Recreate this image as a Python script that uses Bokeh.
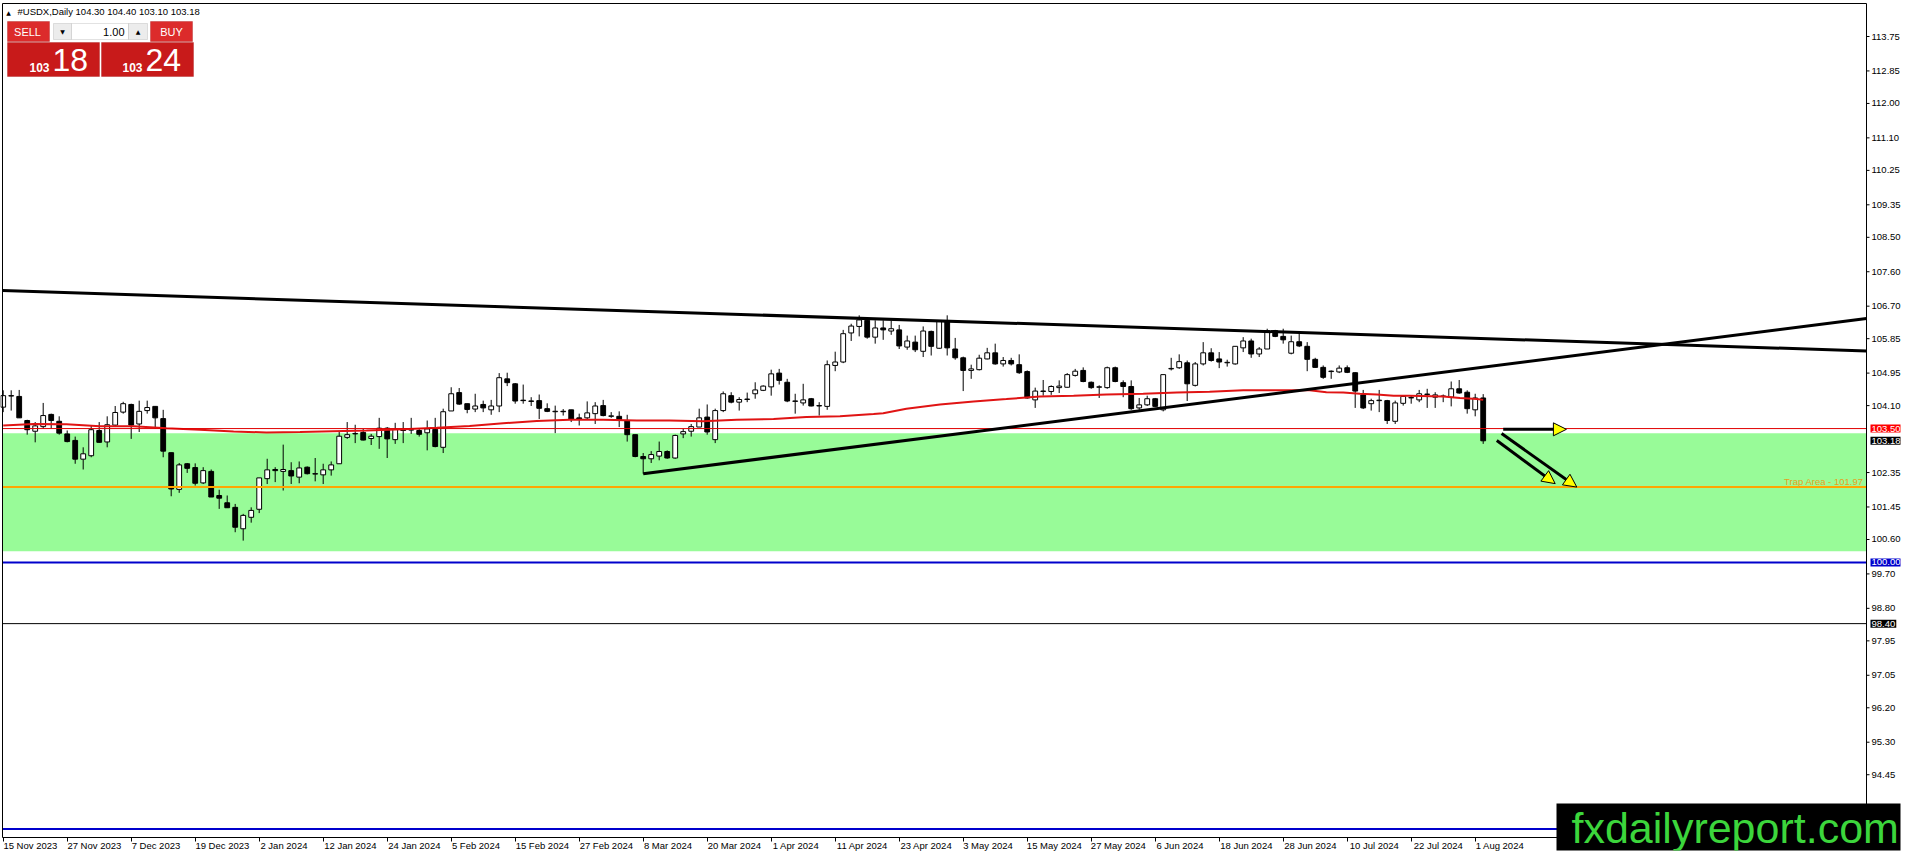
from bokeh.plotting import figure
from bokeh.models import (ColumnDataSource, FixedTicker, LinearAxis, Range1d, BoxAnnotation,
                          Label, Arrow, NormalHead, PrintfTickFormatter)
from bokeh.embed import file_html
from bokeh.resources import INLINE

# ---------------- data ----------------
opens = [104.06,104.35,104.34,103.71,103.43,103.55,103.87,103.69,103.36,103.19,
         102.70,102.79,103.45,103.15,103.59,103.93,104.13,103.62,103.97,104.08,
         103.76,102.87,101.91,102.58,102.48,102.08,102.38,101.75,101.56,101.44,
         100.88,101.18,101.39,102.19,102.43,102.38,102.40,102.23,102.49,102.31,
         102.29,102.42,102.58,103.27,103.36,103.40,103.24,103.29,103.51,103.21,
         103.46,103.46,103.45,103.39,103.48,103.01,103.96,104.44,104.15,104.01,
         104.13,103.99,104.09,104.80,104.67,104.24,104.22,104.23,104.02,103.94,
         103.95,103.99,103.78,103.78,103.89,104.10,103.82,103.82,103.71,103.34,
         102.77,102.71,102.78,102.90,102.73,103.36,103.43,103.54,103.80,103.21,
         103.97,104.36,104.19,104.26,104.41,104.50,104.59,104.95,104.71,104.21,
         104.17,104.28,104.09,104.08,105.15,105.24,106.00,106.17,106.33,105.89,
         106.13,106.05,106.08,105.63,105.76,105.52,106.04,105.60,106.31,105.58,
         105.35,105.02,105.04,105.32,105.48,105.19,105.28,105.17,104.99,104.25,
         104.47,104.47,104.57,104.58,104.89,105.02,104.71,104.58,104.57,105.09,
         104.70,104.60,104.04,104.12,104.28,103.99,105.06,105.09,105.22,104.63,
         105.19,105.48,105.32,105.22,105.19,105.61,105.79,105.45,105.58,106.06,
         105.91,105.47,105.77,105.65,105.31,105.10,104.99,104.98,105.09,104.96,
         104.38,104.15,104.23,104.23,103.69,104.16,104.30,104.25,104.39,104.32,
         104.34,104.32,104.54,104.45,103.99,104.30]
highs = [104.50,104.50,104.51,103.73,103.67,104.17,103.89,103.82,103.45,103.29,
         103.01,103.57,103.67,103.82,104.09,104.20,104.15,104.23,104.23,104.08,
         103.99,102.87,102.60,102.60,102.59,102.49,102.43,101.90,101.75,101.53,
         101.27,101.44,102.21,102.71,102.49,103.08,102.62,102.64,102.51,102.73,
         102.58,102.64,103.41,103.67,103.60,103.49,103.36,103.78,103.54,103.65,
         103.67,103.78,103.50,103.71,103.78,104.02,104.58,104.56,104.15,104.41,
         104.23,104.25,104.95,104.96,104.69,104.65,104.32,104.39,104.16,104.10,
         104.01,103.99,103.89,104.21,104.19,104.25,103.93,103.95,103.86,103.34,
         102.86,102.91,103.16,102.93,103.34,103.49,103.62,104.02,104.13,104.02,
         104.47,104.45,104.32,104.44,104.71,104.63,105.04,105.06,104.80,104.41,
         104.67,104.30,104.19,105.28,105.51,106.08,106.24,106.46,106.41,106.33,
         106.33,106.33,106.21,105.93,105.93,106.17,106.06,106.33,106.46,105.87,
         105.38,105.17,105.43,105.61,105.72,105.37,105.35,105.44,105.02,104.57,
         104.77,104.63,104.76,104.95,105.06,105.10,104.73,104.63,105.12,105.12,
         104.76,104.76,104.30,104.36,104.30,104.91,105.35,105.44,105.28,105.24,
         105.76,105.60,105.50,105.30,105.65,105.89,105.85,105.63,106.11,106.08,
         106.11,105.93,106.02,105.76,105.35,105.15,105.02,105.15,105.15,104.97,
         104.51,104.28,104.51,104.25,104.23,104.36,104.36,104.51,104.54,104.45,
         104.39,104.73,104.77,104.50,104.41,104.40]
lows = [103.93,103.97,103.78,103.34,103.14,103.49,103.51,103.34,103.14,102.58,
        102.43,102.75,103.13,103.01,103.54,103.89,103.23,103.41,103.89,103.49,
        102.75,101.73,101.82,102.34,102.01,102.05,101.71,101.40,101.43,100.79,
        100.57,101.04,101.29,102.05,102.10,101.88,102.05,102.07,102.30,102.12,
        102.05,102.27,102.58,103.23,103.12,103.19,103.07,102.97,102.73,103.10,
        103.12,103.36,103.29,102.93,103.01,102.86,103.96,104.12,103.90,103.93,
        103.93,103.86,103.93,104.61,104.15,104.15,104.09,103.75,103.93,103.38,
        103.84,103.67,103.58,103.75,103.62,103.82,103.78,103.54,103.16,102.75,
        102.32,102.60,102.67,102.71,102.71,103.25,103.29,103.54,103.34,103.12,
        103.93,104.16,103.97,104.19,104.28,104.48,104.36,104.65,104.19,103.89,
        104.10,104.08,103.84,103.99,105.00,105.21,105.79,105.91,105.85,105.72,
        105.82,105.95,105.58,105.56,105.50,105.37,105.41,105.58,105.41,105.30,
        104.48,104.80,105.02,105.31,105.17,105.12,105.15,104.93,104.28,104.04,
        104.36,104.38,104.43,104.57,104.86,104.71,104.54,104.30,104.54,104.71,
        104.32,103.99,103.99,104.09,104.06,103.95,105.02,105.06,104.22,104.60,
        105.15,105.25,105.08,105.12,105.17,105.50,105.35,105.37,105.58,105.89,
        105.72,105.44,105.63,105.00,105.09,104.80,104.80,104.95,104.95,104.04,
        104.01,103.97,103.93,103.62,103.62,104.10,104.15,104.19,104.04,104.04,
        104.19,104.08,104.41,103.89,103.82,103.10]
closes = [104.36,104.36,103.78,103.47,103.57,103.84,103.71,103.38,103.16,102.70,
          102.84,103.47,103.14,103.60,103.92,104.15,103.59,103.95,104.05,103.78,
          102.91,101.92,102.55,102.46,102.07,102.40,101.71,101.68,101.43,100.92,
          101.23,101.36,102.21,102.42,102.40,102.43,102.26,102.47,102.32,102.31,
          102.42,102.55,103.30,103.34,103.36,103.20,103.30,103.51,103.23,103.48,
          103.45,103.47,103.35,103.49,103.03,103.94,104.41,104.14,104.00,104.09,
          104.04,104.09,104.83,104.70,104.22,104.23,104.21,104.03,103.95,103.94,
          103.94,103.75,103.74,103.91,104.09,103.84,103.82,103.73,103.34,102.77,
          102.71,102.82,102.90,102.73,103.32,103.42,103.55,103.78,103.41,103.97,
          104.41,104.19,104.26,104.26,104.51,104.61,104.93,104.76,104.22,104.21,
          104.25,104.09,104.09,105.17,105.24,105.98,106.18,106.34,105.89,106.13,
          106.08,106.11,105.66,105.79,105.56,106.05,105.65,106.30,105.61,105.35,
          105.02,105.06,105.34,105.48,105.19,105.28,105.19,104.96,104.30,104.48,
          104.47,104.60,104.61,104.91,105.00,104.73,104.57,104.58,105.09,104.73,
          104.60,104.02,104.12,104.28,104.08,104.91,105.06,105.25,104.67,105.19,
          105.48,105.28,105.24,105.22,105.65,105.79,105.45,105.58,106.06,105.91,
          105.82,105.77,105.66,105.31,105.10,104.84,104.99,105.08,104.97,104.48,
          104.04,104.23,104.23,103.71,104.17,104.34,104.30,104.41,104.39,104.38,
          104.34,104.54,104.43,104.02,104.30,103.18]

# moving average (red), read at these bar positions
ma_bars = [0, 3.8, 7.9, 12.1, 16.3, 20.4, 24.6, 28.8, 32.9, 37.1,
           41.2, 45.4, 50.0, 54.2, 58.3, 62.5, 66.7, 70.8, 75.0, 79.2,
           83.3, 87.5, 91.7, 96.3, 100.4, 104.6, 108.8, 110.0, 112.9, 117.1,
           121.3, 125.4, 129.6, 133.8, 137.9, 142.5, 146.7, 150.8, 155.0, 159.2,
           163.3, 165.4, 167.5, 169.6, 171.7, 173.8, 175.8, 180.0, 182.1, 184.2, 185.0]
ma_vals = [103.58, 103.62, 103.61, 103.56, 103.56, 103.51, 103.47, 103.42, 103.40, 103.41,
           103.43, 103.45, 103.48, 103.52, 103.57, 103.64, 103.70, 103.73, 103.73, 103.71,
           103.71, 103.69, 103.73, 103.75, 103.80, 103.82, 103.88, 103.90, 104.02, 104.13,
           104.21, 104.27, 104.34, 104.36, 104.39, 104.41, 104.44, 104.46, 104.50, 104.50,
           104.50, 104.45, 104.44, 104.41, 104.39, 104.36, 104.36, 104.34, 104.30, 104.27, 104.25]

date_labels = ["15 Nov 2023", "27 Nov 2023", "7 Dec 2023", "19 Dec 2023", "2 Jan 2024",
               "12 Jan 2024", "24 Jan 2024", "5 Feb 2024", "15 Feb 2024", "27 Feb 2024",
               "8 Mar 2024", "20 Mar 2024", "1 Apr 2024", "11 Apr 2024", "23 Apr 2024",
               "3 May 2024", "15 May 2024", "27 May 2024", "6 Jun 2024", "18 Jun 2024",
               "28 Jun 2024", "10 Jul 2024", "22 Jul 2024", "1 Aug 2024"]
date_bars = [8 * i for i in range(len(date_labels))]

price_ticks = [113.75, 112.85, 112.00, 111.10, 110.25, 109.35, 108.50, 107.60, 106.70,
               105.85, 104.95, 104.10, 102.35, 101.45, 100.60, 99.70, 98.80, 97.95,
               97.05, 96.20, 95.30, 94.45]

# drawn objects (bar index, price)
down_trend_x = [-0.09, 234.2]
down_trend_y = [107.11, 105.52]
up_trend_x = [80.0, 234.2]
up_trend_y = [102.32, 106.41]
zone_low, zone_high = 100.29, 103.38
trap_level = 101.97
level_red = 103.50
bid_level = 103.18
level_blue = 100.00
level_black = 98.40
level_blue_low = 93.03
arrow_x0 = [187.5, 186.7, 187.3]
arrow_y0 = [103.48, 103.19, 103.37]
arrow_x1 = [195.4, 194.0, 196.7]
arrow_y1 = [103.48, 102.06, 101.97]
tag_values = [103.50, 103.18, 100.00, 98.40]
tag_colors = ["#ff0000", "#000000", "#0000cc", "#000000"]

symbol = "#USDX,Daily"
bid_price, ask_price = "103.18", "103.24"

# ---------------- geometry (pixels) ----------------
FW, FH = 1900, 850          # frame covers the whole canvas
BAR_PX = 8.0                 # pixels per bar
PX_PER_UNIT = 38.25          # pixels per price unit
X0 = -2.7 / BAR_PX           # bar coordinate at left edge
Y1 = 113.75 + 36 / PX_PER_UNIT
AXIS_X_PX, AXIS_Y_PX = 1866, 837   # MT4-style scale lines
LEFT_PX, TOP_PX = 2, 3
FONT = "Liberation Sans"

def px2x(px):
    return X0 + px / BAR_PX

def py2y(py):
    return Y1 - py / PX_PER_UNIT

XA = px2x(AXIS_X_PX)
XL = px2x(LEFT_PX)

p = figure(frame_width=FW, frame_height=FH, output_backend="svg", toolbar_location=None,
           x_range=Range1d(X0, X0 + FW / BAR_PX), y_range=Range1d(py2y(FH), Y1),
           x_axis_location=None, y_axis_location=None,
           min_border=0, min_border_left=0, min_border_top=0, min_border_right=0,
           min_border_bottom=0)
p.xgrid.visible = False
p.ygrid.visible = False
p.background_fill_color = "white"
p.border_fill_color = "white"
p.outline_line_color = None

# axes (labels drawn just inside the canvas edge, MT4 style)
offs = [round(b + (1 + 0.5 * 4.75 * len(s)) / BAR_PX, 3) for b, s in zip(date_bars, date_labels)]
xaxis = LinearAxis(ticker=FixedTicker(ticks=offs, minor_ticks=date_bars),
                   major_label_overrides={o: s for o, s in zip(offs, date_labels)},
                   major_tick_out=0, major_tick_in=0,
                   minor_tick_in=FH - AXIS_Y_PX, minor_tick_out=-(FH - AXIS_Y_PX - 4),
                   major_label_standoff=-11, major_label_text_font=FONT,
                   major_label_text_font_size="9.5px", major_label_text_color="black",
                   axis_line_color=None, minor_tick_line_color="black")
p.add_layout(xaxis, "below")
yaxis = LinearAxis(ticker=FixedTicker(ticks=price_ticks, minor_ticks=[]),
                   formatter=PrintfTickFormatter(format="%.2f"),
                   major_tick_out=0, major_tick_in=0, minor_tick_out=0, minor_tick_in=0,
                   major_label_standoff=-(FW - AXIS_X_PX - 5), major_label_text_font=FONT,
                   major_label_text_font_size="9.5px", major_label_text_color="black",
                   axis_line_color=None)
p.add_layout(yaxis, "right")

# background zone and bid line
p.add_layout(BoxAnnotation(left=XL, right=XA, bottom=zone_low, top=zone_high,
                           fill_color="#98fb98", fill_alpha=1, line_color=None, level="underlay"))
p.segment(x0=[XL], y0=[bid_level], x1=[XA], y1=[bid_level], line_color="#c0c0c0", line_width=1,
          level="underlay")

# candles
idx = list(range(len(opens)))
tops = [max(o, c) for o, c in zip(opens, closes)]
bots = [min(o, c) for o, c in zip(opens, closes)]
tops = [t if t - b >= 0.012 else b + 0.012 for t, b in zip(tops, bots)]
fills = ["white" if c >= o else "black" for o, c in zip(opens, closes)]
src = ColumnDataSource(dict(x=idx, h=highs, l=lows, top=tops, bottom=bots, fill=fills))
p.segment(x0="x", y0="h", x1="x", y1="l", source=src, line_color="black", line_width=1)
p.vbar(x="x", width=0.6, top="top", bottom="bottom", fill_color="fill", line_color="black",
       line_width=1, source=src)

# moving average
p.line(ma_bars, ma_vals, line_color="#e01414", line_width=2)

# horizontal levels (drawn from the left border to the price scale)
for lv, col, lw in [(level_red, "#e00000", 1), (trap_level, "#ffa500", 2),
                    (level_blue, "#0000cc", 2), (level_black, "black", 1),
                    (level_blue_low, "#0000cc", 2)]:
    p.line([XL, XA], [lv, lv], line_color=col, line_width=lw)

# trendlines, extended to the price scale
def extend(xs, ys, x):
    return ys[0] + (ys[1] - ys[0]) * (x - xs[0]) / (xs[1] - xs[0])

p.line([XL, XA], [extend(down_trend_x, down_trend_y, XL), extend(down_trend_x, down_trend_y, XA)],
       line_color="black", line_width=3)
p.line([up_trend_x[0], XA], [up_trend_y[0], extend(up_trend_x, up_trend_y, XA)],
       line_color="black", line_width=3)

# arrows
asrc = ColumnDataSource(dict(x0=arrow_x0, y0=arrow_y0, x1=arrow_x1, y1=arrow_y1))
p.add_layout(Arrow(end=NormalHead(size=13, fill_color="#ffff00", line_color="black", line_width=1),
                   x_start="x0", y_start="y0", x_end="x1", y_end="y1", source=asrc,
                   line_color="black", line_width=3))

# chart border and scale lines
p.line([XL, XA], [py2y(TOP_PX), py2y(TOP_PX)], line_color="black", line_width=1)
p.line([XL, XL], [py2y(TOP_PX), py2y(AXIS_Y_PX)], line_color="black", line_width=1)
p.line([XA, XA], [py2y(TOP_PX), py2y(AXIS_Y_PX)], line_color="black", line_width=1)
p.line([XL, XA], [py2y(AXIS_Y_PX), py2y(AXIS_Y_PX)], line_color="black", line_width=1)
p.segment(x0=[XA] * len(price_ticks), x1=[XA + 3 / BAR_PX] * len(price_ticks),
          y0=price_ticks, y1=price_ticks, line_color="black", line_width=1)

# trap label
p.add_layout(Label(x=AXIS_X_PX - 3, y=trap_level, x_units="screen", y_units="data",
                   text="Trap Area - %.2f" % trap_level, text_align="right", text_baseline="bottom",
                   text_font=FONT, text_font_size="9.5px", text_color="#e8a020"))

# price tags on the right scale
for v, col in zip(tag_values, tag_colors):
    p.add_layout(Label(x=AXIS_X_PX + 4, y=v, x_units="screen", y_units="data", text="%.2f" % v,
                       text_align="left", text_baseline="middle", text_font=FONT,
                       text_font_size="9.5px", text_color="white",
                       background_fill_color=col, background_fill_alpha=1, padding=1))

# ---------------- one-click trading panel (screen px from top-left) ----------------
def sbox(x0, y0, x1, y1, fill, line=None):
    p.add_layout(BoxAnnotation(left=x0, right=x1, top=FH - y0, bottom=FH - y1,
                               left_units="screen", right_units="screen",
                               top_units="screen", bottom_units="screen",
                               fill_color=fill, fill_alpha=1, line_color=line,
                               line_width=1, level="overlay"))

def slabel(x, y, text, size, color, align="left", font=FONT, style="normal"):
    p.add_layout(Label(x=x, y=FH - y, x_units="screen", y_units="screen", text=text,
                       text_font_size=size, text_color=color, text_align=align,
                       text_baseline="middle", text_font=font, text_font_style=style,
                       level="overlay"))

ohlc_txt = "%s  %.2f %.2f %.2f %.2f" % (symbol, opens[-1], highs[-1], lows[-1], closes[-1])
slabel(8, 11.5, "\u25b2", "6px", "black", align="center", font="DejaVu Sans")
slabel(17, 11.2, ohlc_txt, "9.5px", "black")

sbox(7, 21, 49, 41, "#dc2b2b", "#a00000")
sbox(53, 23, 71, 39, "#ececec", "#a0a0a0")
sbox(71, 23, 128, 39, "white", "#a0a0a0")
sbox(128, 23, 147, 39, "#ececec", "#a0a0a0")
sbox(150, 21, 192, 41, "#dc2b2b", "#a00000")
sbox(7, 42, 99, 76, "#c81a1a", "#a00000")
sbox(101, 42, 193, 76, "#c81a1a", "#a00000")
slabel(27, 31, "SELL", "11px", "white", align="center")
slabel(171, 31, "BUY", "11px", "white", align="center")
slabel(124, 31, "1.00", "11px", "black", align="right")
slabel(62, 31, "\u25bc", "6px", "black", align="center", font="DejaVu Sans")
slabel(137.5, 31, "\u25b2", "6px", "black", align="center", font="DejaVu Sans")
slabel(29, 66.5, bid_price[:3], "12px", "white", style="bold")
slabel(52, 59.5, bid_price[-2:], "32px", "white")
slabel(122, 66.5, ask_price[:3], "12px", "white", style="bold")
slabel(145, 59.5, ask_price[-2:], "32px", "white")

# ---------------- watermark ----------------
p.add_layout(BoxAnnotation(left=1556, right=FW + 10, top=FH - 803, bottom=-10,
                           left_units="screen", right_units="screen",
                           top_units="screen", bottom_units="screen",
                           fill_color="black", fill_alpha=1, line_color=None, level="overlay"))
p.add_layout(Label(x=1571, y=FH - (842 - 0.3465 * 43), x_units="screen", y_units="screen",
                   text="fxdailyreport.com", text_font=FONT, text_font_size="43px",
                   text_color="#3cd63c", text_baseline="middle", level="overlay"))

open("out.html", "w").write(file_html(p, INLINE))
